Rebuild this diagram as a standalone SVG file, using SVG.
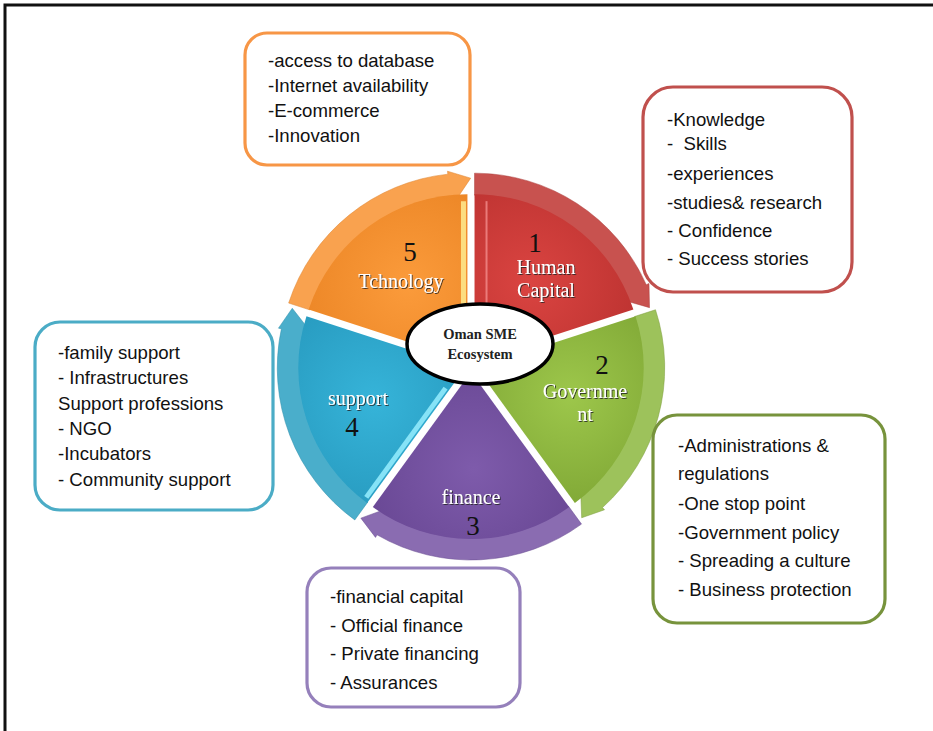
<svg xmlns="http://www.w3.org/2000/svg" xmlns:xlink="http://www.w3.org/1999/xlink" width="933" height="731" viewBox="0 0 933 731">
<style>
.box{fill:#fff;stroke-width:3.2}
.bt{font-family:"Liberation Sans",Arial,sans-serif;font-size:18.6px;fill:#111}
.seg{font-family:"Liberation Serif","Times New Roman",serif;font-size:20px;fill:#fff;text-anchor:middle}
.num{font-family:"Liberation Serif","Times New Roman",serif;font-size:27px;fill:#111;text-anchor:middle}
.band{stroke-width:0.8;stroke-opacity:0.6}
</style>
<defs>
<path id="wedge" d="M0,0 L0,-167 A167,167 0 0,1 158.83,-51.61 Z"/>
<path id="arrowband" d="M0,-188 A188,188 0 0,1 171.74,-76.46 L174.48,-77.68 L175.00,-53.51 L141.59,-63.04 L151.64,-67.51 A166,166 0 0,0 0,-166 Z"/>
<radialGradient id="gRed" gradientUnits="userSpaceOnUse" cx="55" cy="-80" r="135"><stop offset="0" stop-color="#da4441"/><stop offset="1" stop-color="#b8302e"/></radialGradient>
<radialGradient id="gGreen" gradientUnits="userSpaceOnUse" cx="55" cy="-80" r="135"><stop offset="0" stop-color="#9dc74b"/><stop offset="1" stop-color="#7ba232"/></radialGradient>
<radialGradient id="gPurple" gradientUnits="userSpaceOnUse" cx="55" cy="-80" r="135"><stop offset="0" stop-color="#7e5bab"/><stop offset="1" stop-color="#654490"/></radialGradient>
<radialGradient id="gBlue" gradientUnits="userSpaceOnUse" cx="55" cy="-80" r="135"><stop offset="0" stop-color="#36b4d9"/><stop offset="1" stop-color="#2596bb"/></radialGradient>
<radialGradient id="gOrange" gradientUnits="userSpaceOnUse" cx="55" cy="-80" r="135"><stop offset="0" stop-color="#fb9b3b"/><stop offset="1" stop-color="#e98222"/></radialGradient>
<filter id="ts" x="-10%" y="-20%" width="130%" height="150%"><feDropShadow dx="1" dy="1" stdDeviation="0.6" flood-color="#222" flood-opacity="0.8"/></filter>
</defs>

<rect x="5" y="5" width="940" height="740" fill="none" stroke="#111" stroke-width="3"/>

<g id="connectors">
  <use class="band" xlink:href="#arrowband" href="#arrowband" transform="translate(474.53,361.15) rotate(0)" fill="#c8524f" stroke="#a83a38"/>
  <use class="band" xlink:href="#arrowband" href="#arrowband" transform="translate(476.71,367.85) rotate(72)" fill="#9dc25b" stroke="#7f9f3e"/>
  <use class="band" xlink:href="#arrowband" href="#arrowband" transform="translate(471,372) rotate(144)" fill="#8a6cb1" stroke="#6a4e92"/>
  <use class="band" xlink:href="#arrowband" href="#arrowband" transform="translate(465.29,367.85) rotate(216)" fill="#4aaecb" stroke="#2e8eab"/>
  <use class="band" xlink:href="#arrowband" href="#arrowband" transform="translate(467.47,361.15) rotate(288)" fill="#f9a24f" stroke="#de8430"/>
</g>

<g id="node-human-capital">
  <g transform="translate(474.53,361.15) rotate(0)">
    <use xlink:href="#wedge" href="#wedge" fill="url(#gRed)"/>
    <line x1="12" y1="-50" x2="12" y2="-160" stroke="#f28b8b" stroke-width="2" stroke-opacity="0.8"/>
  </g>
  <text class="num" x="535" y="252">1</text>
  <text class="seg" x="546" y="274" filter="url(#ts)">Human</text>
  <text class="seg" x="546" y="297" filter="url(#ts)">Capital</text>
</g>

<g id="node-government">
  <g transform="translate(476.71,367.85) rotate(72)">
    <use xlink:href="#wedge" href="#wedge" fill="url(#gGreen)"/>
  </g>
  <text class="num" x="602" y="374">2</text>
  <text class="seg" x="585" y="398" filter="url(#ts)">Governme</text>
  <text class="seg" x="585" y="421" filter="url(#ts)">nt</text>
</g>

<g id="node-finance">
  <g transform="translate(471,372) rotate(144)">
    <use xlink:href="#wedge" href="#wedge" fill="url(#gPurple)"/>
  </g>
  <text class="seg" x="471" y="504" filter="url(#ts)">finance</text>
  <text class="num" x="473" y="535">3</text>
</g>

<g id="node-support">
  <g transform="translate(465.29,367.85) rotate(216)">
    <use xlink:href="#wedge" href="#wedge" fill="url(#gBlue)"/>
    <line x1="4" y1="-28" x2="4" y2="-163" stroke="#86e3f7" stroke-width="5"/>
  </g>
  <text class="seg" x="358" y="405" filter="url(#ts)">support</text>
  <text class="num" x="352" y="436">4</text>
</g>

<g id="node-technology">
  <g transform="translate(467.47,361.15) rotate(288)">
    <use xlink:href="#wedge" href="#wedge" fill="url(#gOrange)"/>
    <line x1="27.29" y1="-13.07" x2="150.93" y2="-53.24" stroke="#fde68a" stroke-width="5" stroke-opacity="0.9"/>
  </g>
  <text class="num" x="410" y="261">5</text>
  <text class="seg" x="401" y="288" filter="url(#ts)">Tchnology</text>
</g>

<g id="node-center">
  <ellipse cx="480" cy="344" rx="73" ry="40" fill="#fff" stroke="#000" stroke-width="3.5"/>
  <text x="480" y="339" font-family="'Liberation Serif','Times New Roman',serif" font-size="14.5" font-weight="bold" fill="#222" text-anchor="middle">Oman SME</text>
  <text x="480" y="359" font-family="'Liberation Serif','Times New Roman',serif" font-size="14.5" font-weight="bold" fill="#222" text-anchor="middle">Ecosystem</text>
</g>

<g id="box-technology">
  <rect class="box" x="245" y="33" width="225" height="132" rx="22" stroke="#f79646"/>
  <text class="bt" x="268" y="67">-access to database</text>
  <text class="bt" x="268" y="92">-Internet availability</text>
  <text class="bt" x="268" y="117">-E-commerce</text>
  <text class="bt" x="268" y="142">-Innovation</text>
</g>

<g id="box-human-capital">
  <rect class="box" x="643" y="87" width="209" height="205" rx="30" stroke="#c0504d"/>
  <text class="bt" x="667" y="126">-Knowledge</text>
  <text class="bt" x="667" y="150" xml:space="preserve">-  Skills</text>
  <text class="bt" x="667" y="180">-experiences</text>
  <text class="bt" x="667" y="209">-studies&amp; research</text>
  <text class="bt" x="667" y="237">- Confidence</text>
  <text class="bt" x="667" y="265">- Success stories</text>
</g>

<g id="box-support">
  <rect class="box" x="35" y="322" width="238" height="188" rx="25" stroke="#4bacc6"/>
  <text class="bt" x="58" y="359">-family support</text>
  <text class="bt" x="58" y="384">- Infrastructures</text>
  <text class="bt" x="58" y="410">Support professions</text>
  <text class="bt" x="58" y="435">- NGO</text>
  <text class="bt" x="58" y="460">-Incubators</text>
  <text class="bt" x="58" y="486">- Community support</text>
</g>

<g id="box-government">
  <rect class="box" x="653" y="415" width="232" height="208" rx="24" stroke="#77933c"/>
  <text class="bt" x="678" y="452">-Administrations &amp;</text>
  <text class="bt" x="678" y="480">regulations</text>
  <text class="bt" x="678" y="510">-One stop point</text>
  <text class="bt" x="678" y="539">-Government policy</text>
  <text class="bt" x="678" y="567">- Spreading a culture</text>
  <text class="bt" x="678" y="596">- Business protection</text>
</g>

<g id="box-finance">
  <rect class="box" x="307" y="568" width="213" height="139" rx="24" stroke="#9580bb"/>
  <text class="bt" x="330" y="603">-financial capital</text>
  <text class="bt" x="330" y="632">- Official finance</text>
  <text class="bt" x="330" y="660">- Private financing</text>
  <text class="bt" x="330" y="689">- Assurances</text>
</g>
</svg>
